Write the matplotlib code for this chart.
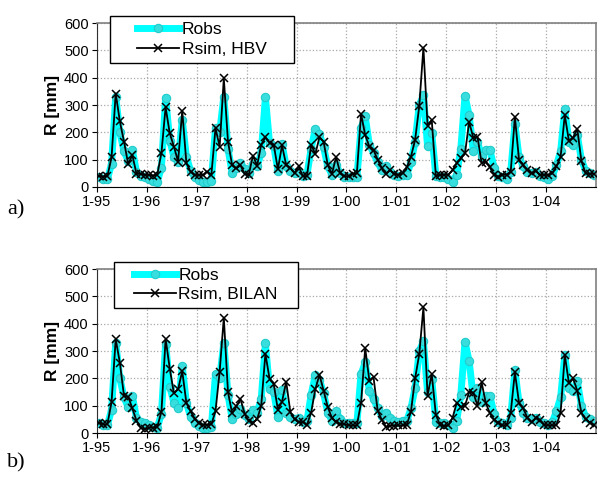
import numpy as np
import matplotlib
matplotlib.use('Agg')
import matplotlib.pyplot as plt
from matplotlib.patches import Rectangle

plt.rcParams['font.family'] = ['Liberation Sans', 'DejaVu Sans']

# monthly runoff 1/1995 - 12/2004 [mm]
robs = [35, 30, 28, 85, 330, 200, 130, 95, 135, 55, 40, 35,
        30, 22, 20, 70, 327, 170, 110, 90, 245, 110, 60, 35,
        25, 20, 20, 22, 215, 200, 330, 140, 52, 70, 88, 65,
        50, 85, 75, 125, 328, 160, 150, 60, 158, 75, 58, 50,
        55, 40, 45, 140, 212, 195, 145, 75, 45, 80, 50, 35,
        38, 35, 35, 215, 258, 155, 125, 90, 62, 75, 55, 45,
        40, 45, 45, 90, 165, 300, 335, 150, 198, 40, 35, 35,
        30, 20, 45, 140, 333, 263, 130, 165, 115, 135, 135, 70,
        40, 35, 30, 55, 230, 110, 75, 55, 50, 55, 40, 35,
        30, 40, 80, 130, 285, 165, 155, 190, 100, 60, 50, 45]

rsim_hbv = [40, 38, 40, 108, 342, 240, 166, 84, 117, 48, 48, 44,
            44, 42, 45, 125, 292, 196, 148, 93, 279, 87, 56, 44,
            44, 44, 56, 44, 215, 148, 398, 166, 80, 68, 80, 48,
            45, 115, 78, 155, 182, 162, 155, 65, 152, 80, 70, 50,
            75, 40, 40, 155, 120, 182, 166, 80, 48, 110, 50, 40,
            40, 48, 50, 268, 190, 148, 135, 100, 68, 48, 62, 48,
            45, 50, 72, 111, 172, 296, 510, 225, 245, 40, 44, 44,
            45, 62, 87, 105, 123, 238, 180, 184, 88, 93, 72, 45,
            38, 44, 45, 56, 256, 99, 80, 62, 50, 60, 44, 44,
            44, 50, 75, 111, 263, 168, 180, 213, 95, 50, 48, 48]

rsim_bilan = [38, 32, 32, 113, 343, 257, 135, 133, 90, 45, 20, 13,
              20, 20, 23, 78, 345, 235, 145, 160, 226, 110, 80, 52,
              35, 30, 30, 32, 80, 225, 422, 150, 72, 97, 125, 70,
              44, 38, 50, 100, 290, 198, 180, 85, 115, 188, 76, 50,
              40, 40, 30, 75, 160, 213, 155, 95, 55, 40, 33, 33,
              28, 28, 28, 110, 310, 192, 204, 82, 48, 22, 27, 27,
              28, 28, 30, 78, 200, 288, 460, 137, 216, 66, 30, 25,
              28, 55, 110, 95, 100, 150, 148, 100, 185, 110, 72, 48,
              38, 28, 30, 74, 222, 110, 90, 56, 40, 55, 48, 30,
              28, 28, 30, 74, 285, 182, 200, 155, 74, 50, 38, 30]

year_labels = ['1-95', '1-96', '1-97', '1-98', '1-99',
               '1-00', '1-01', '1-02', '1-03', '1-04']

months = np.arange(len(robs)) + 0.5

fig = plt.figure(figsize=(5.98, 4.96), dpi=100)
ax_a = fig.add_axes([0.1622, 0.623, 0.8344, 0.3306])
ax_b = fig.add_axes([0.1622, 0.127, 0.8344, 0.3306])

# axes, simulated series, legend label, legend box (x0, y0, w, h) in axes coords
panels = [(ax_a, rsim_hbv, 'Rsim, HBV', (0.026, 0.756, 0.369, 0.287)),
          (ax_b, rsim_bilan, 'Rsim, BILAN', (0.034, 0.762, 0.369, 0.281))]

for ax, sim, simlabel, legbox in panels:
    ax.plot(months, robs, '-o', color='cyan', lw=5, ms=6,
            mfc='#38dede', mec='#22cccc', mew=0.8, label='Robs', zorder=2)
    ax.plot(months, sim, '-x', color='black', lw=1.3, ms=6, mew=1.1,
            label=simlabel, zorder=3)
    ax.set_xlim(0, 120)
    ax.set_ylim(0, 600)
    ax.set_xticks(np.arange(0, 120, 12))
    ax.set_xticklabels(year_labels)
    ax.set_yticks(np.arange(0, 601, 100))
    ax.grid(True, color='#a8a8a8', linestyle=':', linewidth=0.9)
    ax.set_axisbelow(True)
    ax.tick_params(axis='both', labelsize=10.5, direction='out',
                   length=3.5, width=0.8, color='black', pad=2.5)
    ax.set_ylabel('R [mm]', fontsize=12.5, fontweight='bold', labelpad=3)
    for side in ['top', 'right']:
        ax.spines[side].set_color('#808080')
        ax.spines[side].set_linewidth(1.2)
    ax.spines['left'].set_color('#303030')
    ax.spines['bottom'].set_color('black')

    # white legend box with black frame, entries centred inside it
    x0, y0, w, h = legbox
    ax.add_patch(Rectangle((x0, y0), w, h, transform=ax.transAxes,
                           facecolor='white', edgecolor='black', lw=1.0,
                           clip_on=False, zorder=4))
    leg = ax.legend(loc='center', bbox_to_anchor=(x0 + w / 2, y0 + h / 2),
                    fontsize=12.5, frameon=False, handlelength=2.4,
                    borderpad=0, labelspacing=0.25, handletextpad=0.15,
                    borderaxespad=0)
    leg.set_zorder(5)

fig.text(0.012, 1 - 210 / 496, 'a)', family='Liberation Serif',
         fontsize=16, va='center', ha='left')
fig.text(0.012, 1 - 463 / 496, 'b)', family='Liberation Serif',
         fontsize=16, va='center', ha='left')

fig.savefig('out.png', dpi=100)
